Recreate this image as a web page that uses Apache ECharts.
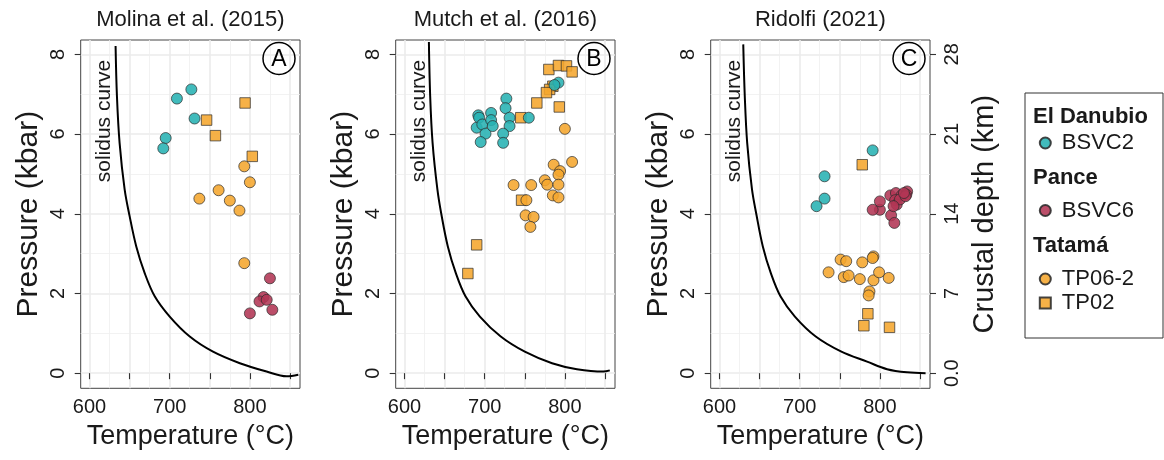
<!DOCTYPE html>
<html><head><meta charset="utf-8">
<script src="https://cdn.jsdelivr.net/npm/echarts@6/dist/echarts.min.js"></script>
<style>html,body{margin:0;padding:0;background:#fff}#c{width:1164px;height:460px}</style>
</head><body><div id="c"></div>
<script>
// ---------- data ----------
const PANEL_TITLES = ['Molina et al. (2015)', 'Mutch et al. (2016)', 'Ridolfi (2021)'];
const PANEL_LETTERS = ['A', 'B', 'C'];
const X_TICKS = [600, 650, 700, 750, 800, 850];
const X_LABELS = [600, 700, 800];
const X_MINOR = [625, 675, 725, 775, 825];
const Y_TICKS = [0, 2, 4, 6, 8];
const Y_MINOR = [1, 3, 5, 7];
const DEPTH_TICKS = [0, 7, 14, 21, 28];

// panel A (Molina et al. 2015)
const A_BSVC2 = [[727,7.12],[709,6.89],[731,6.39],[695,5.90],[692,5.64]];
const A_BSVC6 = [[825,2.38],[817,1.91],[812,1.80],[821,1.84],[828,1.59],[800,1.50]];
const A_TP062 = [[793,5.19],[800,4.79],[761,4.59],[737,4.38],[775,4.33],[787,4.08],[793,2.76]];
const A_TP02  = [[794,6.78],[746,6.35],[757,5.96],[803,5.44]];
// panel B (Mutch et al. 2016)
const B_BSVC2 = [[692,6.47],[693,6.41],[690,6.16],[697,6.24],[701,6.01],[695,5.80],[708,6.53],[708,6.35],
                 [710,6.20],[727,6.89],[726,6.65],[731,6.41],[731,6.20],[723,6.01],[723,5.78],[755,6.41],
                 [792,7.29],[787,7.23]];
const B_BSVC6 = [];
const B_TP062 = [[800,6.13],[809,5.30],[786,5.23],[794,5.07],[792,4.98],[775,4.84],[778,4.73],[792,4.73],
                 [736,4.72],[758,4.72],[785,4.46],[792,4.41],[752,4.34],[751,3.96],[761,3.92],[757,3.67]];
const B_TP02  = [[780,7.62],[792,7.72],[802,7.71],[809,7.56],[785,7.20],[781,7.12],[777,7.04],[765,6.78],
                 [793,6.68],[745,6.41],[746,4.34],[690,3.22],[679,2.50]];
// panel C (Ridolfi 2021)
const C_BSVC2 = [[791,5.59],[731,4.94],[731,4.38],[721,4.19]];
const C_BSVC6 = [[800,4.10],[791,4.10],[800,4.31],[814,3.96],[818,3.77],[813,4.46],[820,4.52],[827,4.46],
                 [834,4.56],[833,4.48],[819,4.34],[821,4.23],[825,4.36],[832,4.44],[817,4.19],[830,4.52]];
const C_TP062 = [[736,2.53],[751,2.85],[758,2.81],[778,2.78],[792,2.93],[791,2.89],[755,2.41],[761,2.45],
                 [775,2.36],[792,2.33],[799,2.53],[811,2.39],[787,2.05],[786,1.95]];
const C_TP02  = [[778,5.23],[785,1.49],[780,1.19],[812,1.15]];

// solidus curves (T, P)
const SOLIDUS_A = [[632.5,8.21],[634.2,6.95],[637.5,5.78],[643.8,4.61],[650,3.94],[658.3,3.18],[668.8,2.51],
                   [681.3,1.93],[700,1.42],[725,0.92],[754,0.54],[787.5,0.25],[820.8,0.04],[845.8,-0.08],[860.4,-0.04]];
const SOLIDUS_B = [[630.4,8.31],[632,6.95],[635,5.78],[641,4.61],[646,3.98],[654,3.18],[664,2.51],
                   [676,1.93],[694,1.42],[720,0.92],[750,0.54],[784,0.25],[815,0.10],[848,0.04],[856,0.07]];
const SOLIDUS_C = [[629.6,8.25],[631.5,6.95],[634.5,5.78],[640.5,4.61],[646,3.98],[654,3.18],[664,2.51],
                   [676,1.93],[694,1.42],[720,0.92],[752,0.54],[784,0.29],[809,0.10],[834,0.02],[857,0.0]];

const PANELS = [
  {BSVC2: A_BSVC2, BSVC6: A_BSVC6, TP062: A_TP062, TP02: A_TP02, SOL: SOLIDUS_A},
  {BSVC2: B_BSVC2, BSVC6: B_BSVC6, TP062: B_TP062, TP02: B_TP02, SOL: SOLIDUS_B},
  {BSVC2: C_BSVC2, BSVC6: C_BSVC6, TP062: C_TP062, TP02: C_TP02, SOL: SOLIDUS_C}
];

// ---------- layout / style ----------
const FONT = 'Liberation Sans, Arial, Helvetica, sans-serif';
const X_MIN = 589, X_MAX = 862.5, Y_MIN = -0.38, Y_MAX = 8.36, KM_PER_KBAR = 3.5;
const GRID_LEFTS = [80.7, 395.7, 710.7];
const GRID_W = 219.3, GRID_TOP = 40, GRID_H = 348.3;
const COL = {BSVC2: '#27B2B3', BSVC6: '#B23654', TP: '#F5A62E'};
const TXT = '#1a1a1a';

const grids = [], xAxes = [], yAxes = [], series = [], graphics = [];
PANELS.forEach((p, i) => {
  grids.push({left: GRID_LEFTS[i], top: GRID_TOP, width: GRID_W, height: GRID_H,
              show: true, borderColor: '#444', borderWidth: 1, backgroundColor: '#fff'});
  xAxes.push({type: 'value', gridIndex: i, min: X_MIN, max: X_MAX, position: 'bottom',
    axisLine: {show: false},
    axisTick: {show: true, customValues: X_TICKS, length: 6, lineStyle: {color: '#333', width: 1.1}},
    axisLabel: {customValues: X_LABELS, fontSize: 20, color: TXT, margin: 9, fontFamily: FONT},
    splitLine: {show: true, lineStyle: {color: '#EBEBEB', width: 1.6}},
    name: 'Temperature (°C)', nameLocation: 'middle', nameGap: 35,
    nameTextStyle: {fontSize: 27, color: TXT, fontFamily: FONT}});
  xAxes.push({type: 'value', gridIndex: i, min: X_MIN, max: X_MAX, position: 'top',
    axisLine: {show: false}, axisTick: {show: false, customValues: X_MINOR}, axisLabel: {show: false},
    splitLine: {show: true, lineStyle: {color: '#EFEFEF', width: 0.8}}});
  yAxes.push({type: 'value', gridIndex: i, min: Y_MIN, max: Y_MAX, position: 'left',
    axisLine: {show: false},
    axisTick: {show: true, customValues: Y_TICKS, length: 6, lineStyle: {color: '#333', width: 1.1}},
    axisLabel: {customValues: Y_TICKS, fontSize: 20, color: TXT, margin: 12, rotate: 90, fontFamily: FONT},
    splitLine: {show: true, lineStyle: {color: '#EBEBEB', width: 1.6}},
    name: 'Pressure (kbar)', nameLocation: 'middle', nameGap: 37,
    nameTextStyle: {fontSize: 30, color: TXT, fontFamily: FONT}});
  yAxes.push({type: 'value', gridIndex: i, min: Y_MIN, max: Y_MAX, position: 'left',
    axisLine: {show: false}, axisTick: {show: false, customValues: Y_MINOR}, axisLabel: {show: false},
    splitLine: {show: true, lineStyle: {color: '#EFEFEF', width: 0.8}}});

  const xi = 2 * i, yi = 2 * i;
  const pt = (name, data, color, symbol) => ({
    type: 'scatter', name, data, xAxisIndex: xi, yAxisIndex: yi, symbol,
    symbolSize: symbol === 'rect' ? 10.5 : 11,
    itemStyle: {color, borderColor: '#2b2b2b', borderWidth: 0.8, opacity: 0.88}
  });
  series.push({type: 'line', data: p.SOL, xAxisIndex: xi, yAxisIndex: yi, showSymbol: false,
    smooth: 0.35, lineStyle: {color: '#000', width: 2}, silent: true, z: 1});
  series.push(pt('TP02', p.TP02, COL.TP, 'rect'));
  series.push(pt('TP06-2', p.TP062, COL.TP, 'circle'));
  series.push(pt('BSVC6', p.BSVC6, COL.BSVC6, 'circle'));
  series.push(pt('BSVC2', p.BSVC2, COL.BSVC2, 'circle'));

  const L = GRID_LEFTS[i], R = L + GRID_W;
  graphics.push({type: 'text', x: L + GRID_W / 2, y: 20,
    style: {text: PANEL_TITLES[i], font: '22px ' + FONT, fill: TXT, align: 'center', verticalAlign: 'middle'}});
  graphics.push({type: 'circle', shape: {cx: R - 21, cy: GRID_TOP + 18.5, r: 16},
    style: {fill: 'rgba(255,255,255,0)', stroke: '#000', lineWidth: 1.5}, z: 100});
  graphics.push({type: 'text', x: R - 21, y: GRID_TOP + 19.5,
    style: {text: PANEL_LETTERS[i], font: '23px ' + FONT, fill: '#000', align: 'center', verticalAlign: 'middle'}, z: 100});
  graphics.push({type: 'text', x: L + 23.5, y: 121, rotation: Math.PI / 2,
    style: {text: 'solidus curve', font: '21px ' + FONT, fill: TXT, align: 'center', verticalAlign: 'middle'}, z: 100});
});

// right-hand crustal depth axis on panel C
yAxes.push({type: 'value', gridIndex: 2, min: Y_MIN * KM_PER_KBAR, max: Y_MAX * KM_PER_KBAR, position: 'right',
  axisLine: {show: false},
  axisTick: {show: true, customValues: DEPTH_TICKS, length: 6, lineStyle: {color: '#333', width: 1.1}},
  axisLabel: {customValues: DEPTH_TICKS, fontSize: 20, color: TXT, margin: 12, rotate: 90, fontFamily: FONT,
    formatter: v => (v === 0 ? '0.0' : String(v))},
  splitLine: {show: false},
  name: 'Crustal depth (km)', nameLocation: 'middle', nameGap: 40,
  nameTextStyle: {fontSize: 29, color: TXT, fontFamily: FONT}});

// legend box and group headings
graphics.push({type: 'rect', shape: {x: 1025, y: 93, width: 138, height: 245},
  style: {fill: 'rgba(255,255,255,0)', stroke: '#333', lineWidth: 1}});
[['El Danubio', 117], ['Pance', 177.5], ['Tatamá', 246]].forEach(([t, y]) => {
  graphics.push({type: 'text', x: 1033, y,
    style: {text: t, font: 'bold 22px ' + FONT, fill: TXT, align: 'left', verticalAlign: 'middle'}});
});

const legBase = {orient: 'vertical', left: 1038.8, padding: 0, itemWidth: 11, itemHeight: 11, itemGap: 2,
  textStyle: {fontSize: 22, color: TXT, fontFamily: FONT, padding: [0, 0, 0, 6]}, selectedMode: false};
const legends = [
  Object.assign({}, legBase, {data: ['BSVC2'], top: 132}),
  Object.assign({}, legBase, {data: ['BSVC6'], top: 199.5}),
  Object.assign({}, legBase, {data: ['TP06-2', 'TP02'], top: 268})
];

const chart = echarts.init(document.getElementById('c'), null, {renderer: 'canvas'});
chart.setOption({
  animation: false, backgroundColor: '#fff',
  grid: grids, xAxis: xAxes, yAxis: yAxes, series, legend: legends, graphic: graphics
});
</script></body></html>
